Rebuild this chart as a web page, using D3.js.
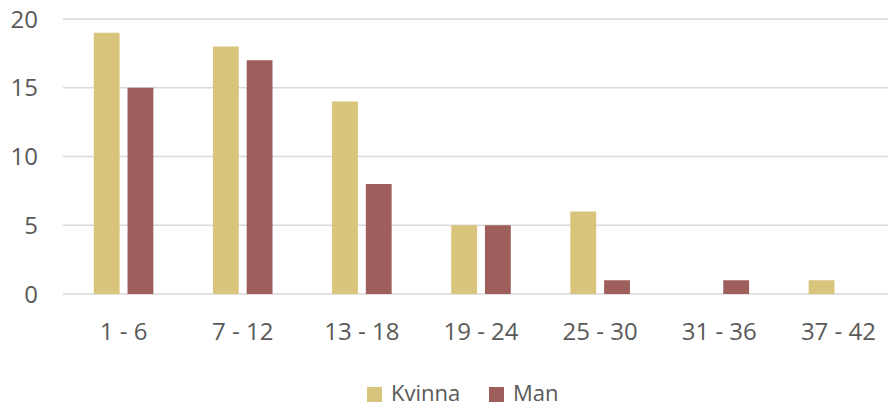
<!DOCTYPE html>
<html>
<head>
<meta charset="utf-8">
<script src="https://cdn.jsdelivr.net/npm/d3@7"></script>
<style>
  html, body { margin: 0; padding: 0; background: #fff; }
  svg { display: block; font-family: "Open Sans", sans-serif; }
</style>
</head>
<body>
<div id="chart"></div>
<script>
// data
const categories = ["1 - 6", "7 - 12", "13 - 18", "19 - 24", "25 - 30", "31 - 36", "37 - 42"];
const seriesNames = ["Kvinna", "Man"];
const kvinnaValues = [19, 18, 14, 5, 6, 0, 1];
const manValues = [15, 17, 8, 5, 1, 1, 0];
const yTicks = [0, 5, 10, 15, 20];

const colors = { Kvinna: "#d8c57b", Man: "#9e5e5c" };
const textColor = "#595959";

const W = 888, H = 407;
const plot = { left: 64, right: 898, top: 19, bottom: 294 };

const svg = d3.select("#chart").append("svg")
  .attr("width", W)
  .attr("height", H);

// scales
const x0 = d3.scaleBand()
  .domain(categories)
  .range([plot.left, plot.right])
  .paddingInner(0.5)
  .paddingOuter(0.25);

const x1 = d3.scaleBand()
  .domain(seriesNames)
  .range([0, x0.bandwidth()])
  .paddingInner(0.235);

const y = d3.scaleLinear()
  .domain([0, 20])
  .range([plot.bottom, plot.top]);

// gridlines
svg.append("g")
  .selectAll("line")
  .data(yTicks)
  .join("line")
  .attr("x1", plot.left - 1)
  .attr("x2", W)
  .attr("y1", d => y(d))
  .attr("y2", d => y(d))
  .attr("stroke", "#d9d9d9")
  .attr("stroke-width", 1.5);

// y axis labels
svg.append("g")
  .selectAll("text")
  .data(yTicks)
  .join("text")
  .attr("x", 38)
  .attr("y", d => y(d))
  .attr("dy", "0.36em")
  .attr("text-anchor", "end")
  .attr("fill", textColor)
  .attr("font-size", 24)
  .text(d => d);

// bars
const rows = categories.map((c, i) => ({
  cat: c,
  vals: [
    { key: "Kvinna", value: kvinnaValues[i] },
    { key: "Man", value: manValues[i] }
  ]
}));

const groups = svg.append("g")
  .selectAll("g")
  .data(rows)
  .join("g")
  .attr("transform", d => `translate(${x0(d.cat)},0)`);

groups.selectAll("rect")
  .data(d => d.vals.filter(v => v.value > 0))
  .join("rect")
  .attr("x", d => x1(d.key))
  .attr("width", x1.bandwidth())
  .attr("y", d => y(d.value))
  .attr("height", d => y(0) - y(d.value))
  .attr("fill", d => colors[d.key]);

// x axis labels
svg.append("g")
  .selectAll("text")
  .data(categories)
  .join("text")
  .attr("x", d => x0(d) + x0.bandwidth() / 2)
  .attr("y", 340)
  .attr("text-anchor", "middle")
  .attr("fill", textColor)
  .attr("font-size", 24)
  .text(d => d);

// legend
const legendItems = [
  { key: "Kvinna", x: 367 },
  { key: "Man", x: 489 }
];
const legend = svg.append("g");
legend.selectAll("rect")
  .data(legendItems)
  .join("rect")
  .attr("x", d => d.x)
  .attr("y", 387)
  .attr("width", 15)
  .attr("height", 15)
  .attr("fill", d => colors[d.key]);
legend.selectAll("text")
  .data(legendItems)
  .join("text")
  .attr("x", d => d.x + 24)
  .attr("y", 401)
  .attr("fill", textColor)
  .attr("font-size", 22)
  .text(d => d.key);
</script>
</body>
</html>
